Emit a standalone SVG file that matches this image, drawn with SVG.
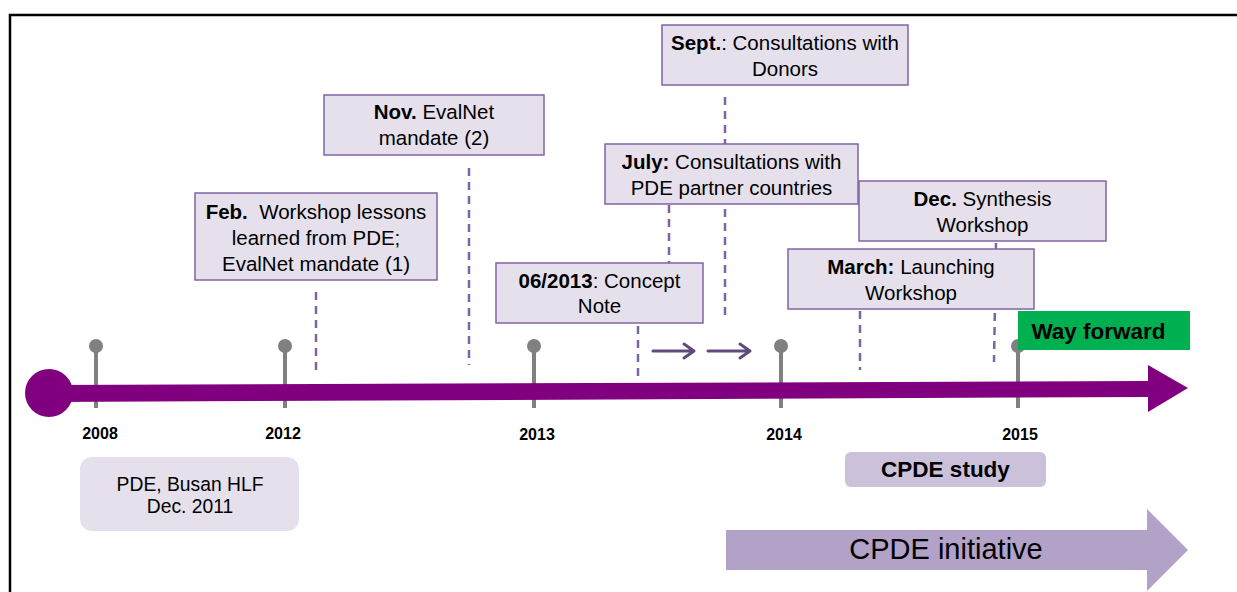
<svg xmlns="http://www.w3.org/2000/svg" width="1237" height="592" viewBox="0 0 1237 592">
<style>
.box{fill:#e5e0ec;stroke:#8064a2;stroke-width:1.5}
.t{font-family:"Liberation Sans",Arial,sans-serif;font-size:20.5px;fill:#000;text-anchor:middle}
.b{font-weight:bold}
.dash{stroke:#8064a2;stroke-width:2.5;stroke-dasharray:8 6;fill:none}
.stem{stroke:#808080;stroke-width:4}
.knob{fill:#808080}
.yr{font-family:"Liberation Sans",Arial,sans-serif;font-size:16px;font-weight:bold;fill:#000;text-anchor:middle}
.sa{stroke:#604a7b;stroke-width:3;fill:none;stroke-linecap:round;stroke-linejoin:round}
</style>
<rect width="1237" height="592" fill="#fff"/>
<path d="M10,592 V15 H1237" fill="none" stroke="#000" stroke-width="2.5"/>

<g id="connectors">
<line class="dash" x1="316" y1="292" x2="316" y2="372"/>
<line class="dash" x1="469" y1="168" x2="469" y2="365"/>
<line class="dash" x1="725" y1="97" x2="725" y2="315"/>
<line class="dash" x1="669" y1="205" x2="669" y2="263"/>
<line class="dash" x1="638" y1="326" x2="638" y2="378"/>
<line class="dash" x1="996" y1="243" x2="994" y2="362"/>
<line class="dash" x1="860" y1="311" x2="860" y2="370"/>
<path class="sa" d="M653,351 H694 M684,344 L694,351 L684,358"/>
<path class="sa" d="M708,351 H750 M740,344 L750,351 L740,358"/>
</g>

<g id="ticks">
<line class="stem" x1="96" y1="346" x2="96" y2="408"/><circle class="knob" cx="96" cy="346" r="7"/>
<line class="stem" x1="285" y1="346" x2="285" y2="408"/><circle class="knob" cx="285" cy="346" r="7"/>
<line class="stem" x1="534" y1="346" x2="534" y2="408"/><circle class="knob" cx="534" cy="346" r="7"/>
<line class="stem" x1="781" y1="346" x2="781" y2="408"/><circle class="knob" cx="781" cy="346" r="7"/>
<line class="stem" x1="1018" y1="346" x2="1018" y2="408"/><circle class="knob" cx="1018" cy="346" r="7"/>
</g>

<g id="timeline">
<polygon points="49,385 1148,381 1148,365 1188,388 1148,412 1148,397 49,402" fill="#800080"/>
<circle cx="49" cy="393" r="24" fill="#800080"/>
</g>

<g id="years">
<text class="yr" x="100" y="439">2008</text>
<text class="yr" x="283" y="439">2012</text>
<text class="yr" x="537" y="440">2013</text>
<text class="yr" x="784" y="440">2014</text>
<text class="yr" x="1020" y="440">2015</text>
</g>

<g id="node-feb">
<rect class="box" x="195" y="193" width="242" height="87"/>
<text class="t" x="316" y="219" xml:space="preserve"><tspan class="b">Feb.</tspan>  Workshop lessons</text>
<text class="t" x="316" y="245">learned from PDE;</text>
<text class="t" x="316" y="271">EvalNet mandate (1)</text>
</g>

<g id="node-nov">
<rect class="box" x="324" y="95" width="220" height="60"/>
<text class="t" x="434" y="119"><tspan class="b">Nov.</tspan> EvalNet</text>
<text class="t" x="434" y="145">mandate (2)</text>
</g>

<g id="node-sept">
<rect class="box" x="662" y="25" width="246" height="60"/>
<text class="t" x="785" y="50"><tspan class="b">Sept.</tspan>: Consultations with</text>
<text class="t" x="785" y="76">Donors</text>
</g>

<g id="node-july">
<rect class="box" x="605" y="144" width="253" height="60"/>
<text class="t" x="731.5" y="169"><tspan class="b">July:</tspan> Consultations with</text>
<text class="t" x="731.5" y="195">PDE partner countries</text>
</g>

<g id="node-concept">
<rect class="box" x="496" y="263" width="207" height="60"/>
<text class="t" x="599.5" y="288"><tspan class="b">06/2013</tspan>: Concept</text>
<text class="t" x="599.5" y="313">Note</text>
</g>

<g id="node-dec">
<rect class="box" x="859" y="181" width="247" height="60"/>
<text class="t" x="982.5" y="206"><tspan class="b">Dec.</tspan> Synthesis</text>
<text class="t" x="982.5" y="232">Workshop</text>
</g>

<g id="node-march">
<rect class="box" x="788" y="249" width="246" height="60"/>
<text class="t" x="911" y="274"><tspan class="b">March:</tspan> Launching</text>
<text class="t" x="911" y="300">Workshop</text>
</g>

<g id="node-wayforward">
<rect x="1018" y="311" width="172" height="39" fill="#00b050"/>
<text class="t b" x="1098.5" y="339" style="font-size:22.5px">Way forward</text>
</g>

<g id="node-busan">
<rect x="80" y="457" width="219" height="74" rx="12" fill="#e5e0ec"/>
<text class="t" x="190" y="491" style="font-size:19.3px">PDE, Busan HLF</text>
<text class="t" x="190" y="513" style="font-size:19.3px">Dec. 2011</text>
</g>

<g id="node-study">
<rect x="845" y="452" width="201" height="35" rx="6" fill="#ccc1da"/>
<text class="t b" x="945.5" y="477" style="font-size:22.5px">CPDE study</text>
</g>

<g id="node-initiative">
<polygon points="726,530 1147,530 1147,509 1188,550 1147,591 1147,570 726,570" fill="#b3a2c7"/>
<text class="t" x="946" y="559" style="font-size:29px">CPDE initiative</text>
</g>
</svg>
